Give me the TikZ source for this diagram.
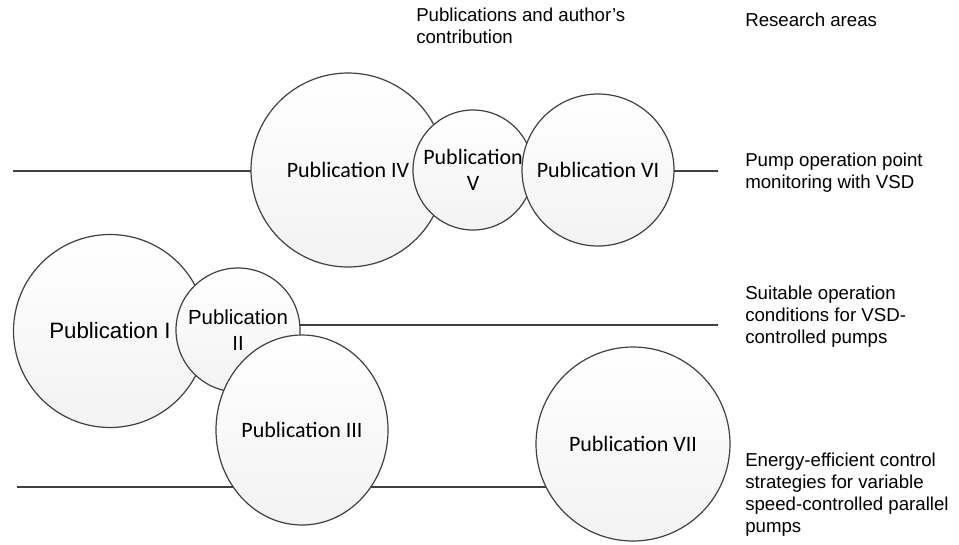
\documentclass[tikz,border=0pt]{standalone}
\usepackage{fontspec}
\setmainfont{Liberation Sans}
\newfontfamily\calib{Carlito}
\usetikzlibrary{positioning, shapes.geometric}
\pgfdeclarelayer{background}
\pgfsetlayers{background,main}

\begin{document}
\begin{tikzpicture}[
  x=0.75pt, y=-0.75pt,
  font=\fontsize{14}{16.5}\selectfont,
  pub/.style={circle, draw=black!75, line width=0.9pt, top color=white, bottom color=black!5, inner sep=0pt, align=center},
  publbl/.style={font=\calib\fontsize{16.5}{19.5}\selectfont},
  area/.style={draw=black!75, line width=1.1pt},
  note/.style={anchor=base west, align=left, inner sep=0pt}
]
\useasboundingbox (0,0) rectangle (959,544);

% publications, upper row
\node[pub, publbl, minimum size=145.5pt] (p4) at (348,170) {Publication IV};
\node[pub, publbl, minimum size=90pt] (p5) at (473,170) {Publication\\V};
\node[pub, publbl, minimum size=114pt] (p6) at (598,170) {Publication VI};

% publications, lower left group
\node[pub, minimum size=144.75pt, font=\fontsize{16.7}{20}\selectfont] (p1) at (110,331) {Publication I};
\node[pub, minimum size=93pt, font=\fontsize{15.3}{20}\selectfont] (p2) at (238,330) {Publication\\II};
\node[pub, publbl, ellipse, minimum width=129pt, minimum height=142.5pt] (p3) at (302,430) {Publication III};
\node[pub, publbl, minimum size=145.5pt] (p7) at (633,444) {Publication VII};

% research area lines
\begin{pgfonlayer}{background}
\coordinate (a1) at (13,171);
\coordinate (b1) at (718,171);
\coordinate (b2) at (718,325);
\coordinate (a3) at (17,487);
\draw[area] (a1) -- (p4.center |- a1);
\draw[area] (p6.center |- b1) -- (b1);
\draw[area] (p2.center |- b2) -- (b2);
\draw[area] (a3) -- (p7.center |- a3);
\end{pgfonlayer}

% headings and area names (placed at the last line's baseline)
\node[note] (head1) at (416,43) {Publications and author's\\contribution};
\node[note] (head2) at (745,26) {Research areas};
\node[note] (ra1) at (745,188) {Pump operation point\\monitoring with VSD};
\node[note] (ra2) at (745,343) {Suitable operation\\conditions for VSD-\\controlled pumps};
\node[note] (ra3) at (745,532) {Energy-efficient control\\strategies for variable\\speed-controlled parallel\\pumps};
\end{tikzpicture}
\end{document}
